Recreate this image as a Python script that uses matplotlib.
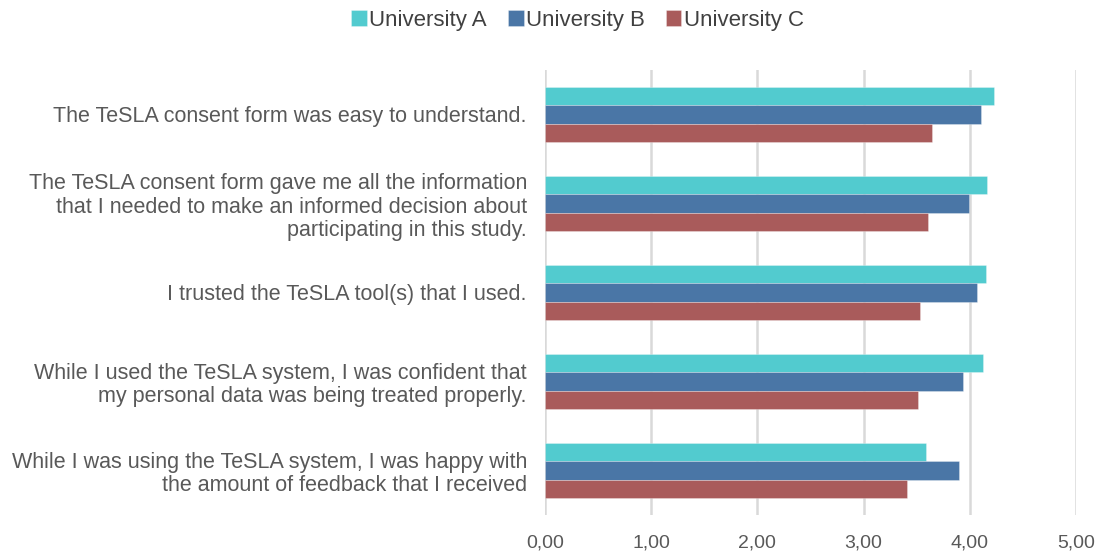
import matplotlib
matplotlib.use('Agg')
import matplotlib.pyplot as plt
import numpy as np

questions = [
    "The TeSLA consent form was easy to understand.",
    "The TeSLA consent form gave me all the information\nthat I needed to make an informed decision about\nparticipating in this study.",
    "I trusted the TeSLA tool(s) that I used.",
    "While I used the TeSLA system, I was confident that\nmy personal data was being treated properly.",
    "While I was using the TeSLA system, I was happy with\nthe amount of feedback that I received",
]
uni_a = [4.23, 4.16, 4.15, 4.13, 3.59]
uni_b = [4.11, 3.99, 4.07, 3.94, 3.90]
uni_c = [3.65, 3.61, 3.53, 3.51, 3.41]
series = [("University A", uni_a, '#52CBCF'),
          ("University B", uni_b, '#4A76A6'),
          ("University C", uni_c, '#A95B5B')]
x_ticks = [0, 1, 2, 3, 4, 5]
x_labels = ["0,00", "1,00", "2,00", "3,00", "4,00", "5,00"]

plt.rcParams['font.family'] = ['Liberation Sans', 'DejaVu Sans']

fig = plt.figure(figsize=(11, 5.54), dpi=100)
ax = fig.add_axes([0.4955, 0.0704, 0.4825, 0.8034])

y = np.arange(len(questions))
h = 0.205
for k, (name, vals, col) in enumerate(series):
    ax.barh(y + (k - 1) * h, vals, height=h, color=col, label=name,
            edgecolor='#FFFFFF55', linewidth=0.6, zorder=3)

ax.set_xlim(0, 5)
ax.set_ylim(len(questions) - 0.5, -0.5)
ax.set_xticks(x_ticks)
ax.set_xticklabels(x_labels)
ax.set_yticks(y)
ax.set_yticklabels(questions)
ax.grid(axis='x', color='#D9D9D9', linewidth=1.8, zorder=0)
for s in ax.spines.values():
    s.set_visible(False)
ax.tick_params(axis='both', length=0, colors='#595959')
ax.tick_params(axis='y', pad=13, labelsize=15.5)
ax.tick_params(axis='x', pad=14, labelsize=14)
for t in ax.get_yticklabels():
    t.set_linespacing(1.15)

fig.legend(loc='upper center', bbox_to_anchor=(0.525, 1.018), ncol=3, frameon=False,
           fontsize=16, handlelength=0.7, handleheight=0.7, handletextpad=0.1,
           columnspacing=0.95, labelcolor='#404040')

plt.savefig('out.png', dpi=100)
plt.close()
